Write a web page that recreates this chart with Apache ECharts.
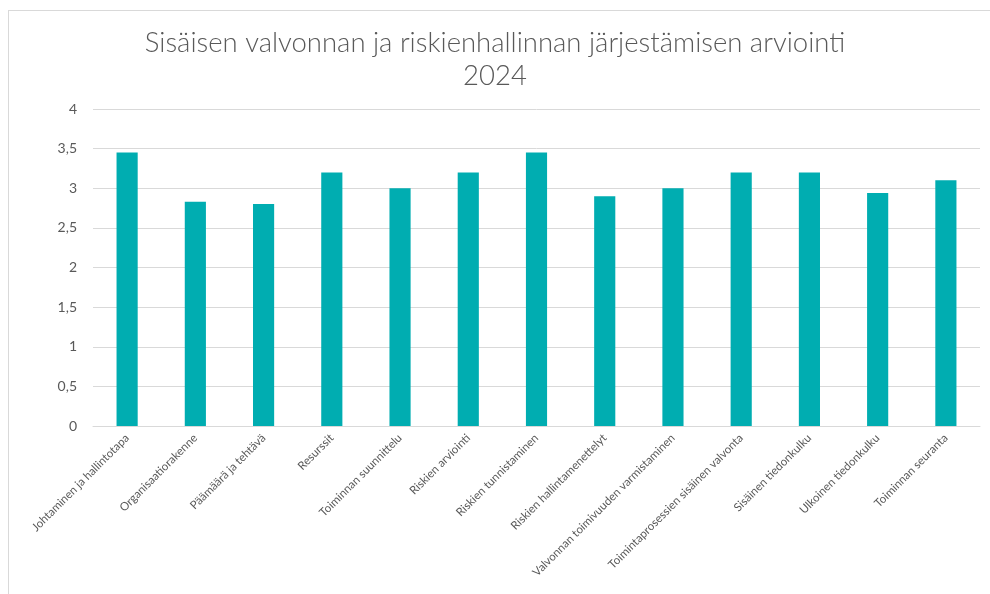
<!DOCTYPE html>
<html>
<head>
<meta charset="utf-8">
<script src="https://cdn.jsdelivr.net/npm/echarts@6/dist/echarts.min.js"></script>
<style>
  html, body { margin: 0; padding: 0; background: #fff; }
  #frame {
    position: absolute; left: 8px; top: 10px; width: 990px; height: 600px;
    border: 1px solid #d9d9d9; box-sizing: border-box;
  }
  #container { position: absolute; left: 0; top: 0; width: 990px; height: 594px; }
</style>
</head>
<body>
<div id="frame"></div>
<div id="container"></div>
<script>
  // kategoriat ja arvot
  const categories = [
    'Johtaminen ja hallintotapa',
    'Organisaatiorakenne',
    'Päämäärä ja tehtävä',
    'Resurssit',
    'Toiminnan suunnittelu',
    'Riskien arviointi',
    'Riskien tunnistaminen',
    'Riskien hallintamenettelyt',
    'Valvonnan toimivuuden varmistaminen',
    'Toimintaprosessien sisäinen valvonta',
    'Sisäinen tiedonkulku',
    'Ulkoinen tiedonkulku',
    'Toiminnan seuranta'
  ];
  const scores = [3.45, 2.83, 2.8, 3.2, 3.0, 3.2, 3.45, 2.9, 3.0, 3.2, 3.2, 2.94, 3.1];

  const myChart = echarts.init(document.getElementById('container'), null, { renderer: 'canvas' });
  const font = 'Lato, "Open Sans", sans-serif';

  var option = {
    animation: false,
    title: {
      text: 'Sisäisen valvonnan ja riskienhallinnan järjestämisen arviointi\n2024',
      left: 'center',
      top: 22,
      textStyle: { fontFamily: font, fontWeight: 300, fontSize: 27.5, color: '#595959', lineHeight: 33 }
    },
    grid: { left: 93, right: 10, top: 109, bottom: 168 },
    xAxis: {
      type: 'category',
      data: categories,
      axisLine: { lineStyle: { color: '#d9d9d9', width: 1 } },
      axisTick: { show: false },
      axisLabel: {
        rotate: 45, interval: 0, margin: 10,
        color: '#595959', fontFamily: font, fontSize: 11.5
      }
    },
    yAxis: {
      type: 'value',
      min: 0, max: 4, interval: 0.5,
      axisLine: { show: false },
      axisTick: { show: false },
      splitLine: { lineStyle: { color: '#d9d9d9', width: 1 } },
      axisLabel: {
        color: '#595959', fontFamily: font, fontSize: 14, margin: 16,
        formatter: v => String(v).replace('.', ',')
      }
    },
    series: [{
      type: 'bar',
      data: scores,
      barWidth: '31%',
      itemStyle: { color: '#00adb1' }
    }]
  };

  myChart.setOption(option);
  window.addEventListener('resize', () => myChart.resize());
</script>
</body>
</html>
